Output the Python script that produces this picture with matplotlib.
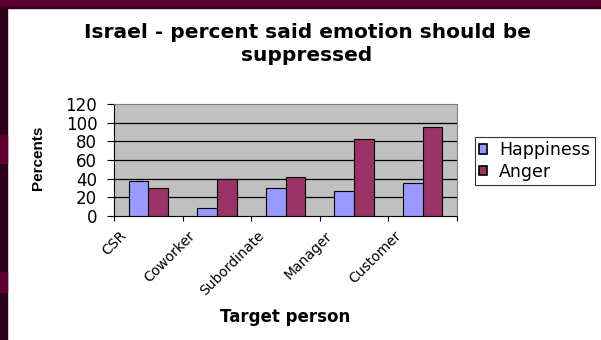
import numpy as np
import matplotlib.pyplot as plt
from matplotlib.patches import Rectangle
import matplotlib.transforms as mtransforms

plt.rcParams['font.family'] = ['DejaVu Sans']

categories = ['CSR', 'Coworker', 'Subordinate', 'Manager', 'Customer']
happiness = [37, 9, 30, 27, 35]
anger = [30, 40, 42, 82, 95]
yticks = [0, 20, 40, 60, 80, 100, 120]

fig = plt.figure(figsize=(6.01, 3.40), dpi=100)
fig.patch.set_facecolor('white')

# dark slide border
W, H = 601, 340
def band(x0, y0, w, h, c):
    fig.patches.append(Rectangle((x0 / W, 1 - (y0 + h) / H), w / W, h / H,
                                 transform=fig.transFigure, color=c, zorder=0))

band(0, 0, 7, H, '#2b0014')
band(0, 135, 7, 28, '#5e0030')
band(0, 272, 7, 20, '#5e0030')
band(0, 0, W, 7, '#5e0030')
band(0, 7, W, 1, '#2b0014')

ax = fig.add_axes([114 / W, 1 - 216 / H, (457 - 114) / W, (216 - 104) / H])
ax.set_facecolor('#c0c0c0')

x = np.arange(len(categories))
w = 0.286
ax.bar(x - w / 2, happiness, w, color='#9999ff', edgecolor='black', linewidth=0.8, label='Happiness', zorder=3)
ax.bar(x + w / 2, anger, w, color='#993366', edgecolor='black', linewidth=0.8, label='Anger', zorder=3)

ax.set_xlim(-0.5, len(categories) - 0.5)
ax.set_ylim(0, 120)
ax.set_yticks(yticks)
ax.set_yticklabels([str(v) for v in yticks], fontsize=12)
for v in yticks[1:-1]:
    ax.axhline(v, color='black', linewidth=0.9, zorder=1)

ax.set_xticks(np.arange(len(categories) + 1) - 0.5)
ax.set_xticklabels([])
ax.set_xticks(x, minor=True)
ax.set_xticklabels(categories, minor=True, rotation=45, ha='right', va='top', fontsize=10)
ax.tick_params(axis='x', which='minor', length=0, pad=9)
ax.tick_params(axis='x', which='major', length=3.5, direction='out')
ax.tick_params(axis='y', length=5, direction='out', pad=7)
offset = mtransforms.ScaledTranslation(-0.19, 0, fig.dpi_scale_trans)
for lbl in ax.get_xticklabels(minor=True):
    lbl.set_transform(lbl.get_transform() + offset)

for s in ['left', 'bottom']:
    ax.spines[s].set_color('black')
for s in ['top', 'right']:
    ax.spines[s].set_color('#808080')

fig.text(285 / W, 1 - 317 / H, 'Target person', fontsize=12, fontweight='bold',
         ha='center', va='center')
fig.text(38 / W, 1 - 158 / H, 'Percents', rotation=90, fontsize=11, fontweight='bold',
         family='Liberation Sans', ha='center', va='center')

fig.text(307 / W, 1 - 44 / H, 'Israel - percent said emotion should be\nsuppressed',
         fontsize=14.5, fontweight='bold', ha='center', va='center', linespacing=1.28)

leg = ax.legend(loc='upper left', bbox_to_anchor=(475 / W, 1 - 137 / H), bbox_transform=fig.transFigure,
                borderaxespad=0, fontsize=12.5, frameon=True, fancybox=False, edgecolor='black',
                borderpad=0.25, handlelength=0.45, handleheight=0.45, handletextpad=0.7,
                labelspacing=0.2)
leg.get_frame().set_linewidth(0.8)
for p in leg.get_patches():
    p.set_linewidth(1.2)

fig.savefig('out.png', dpi=100)
